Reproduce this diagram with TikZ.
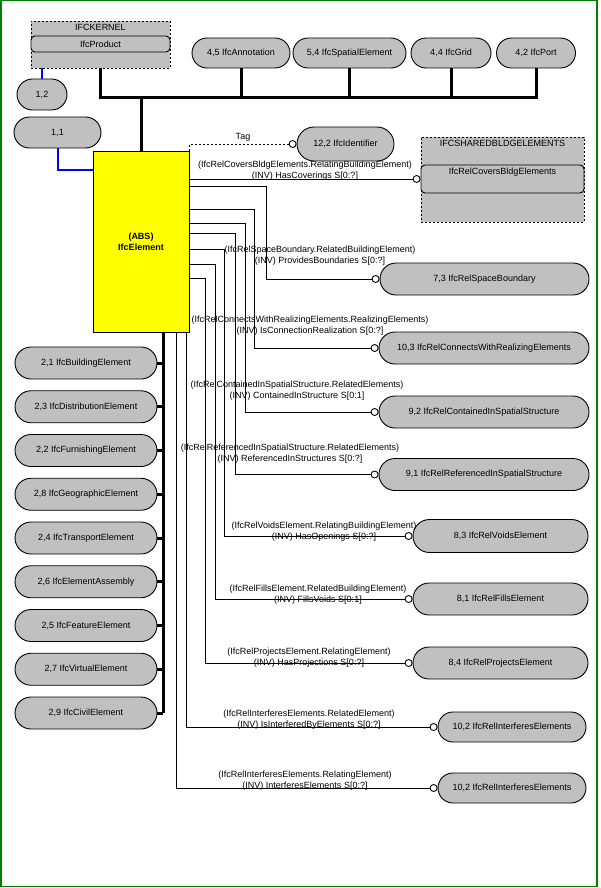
\documentclass[tikz,border=0pt]{standalone}
\usepackage{fontspec}
\setmainfont{Liberation Sans}
\usetikzlibrary{positioning, shapes.misc}

\definecolor{pillgray}{RGB}{192,192,192}
\definecolor{framegreen}{RGB}{0,128,0}
\definecolor{absyellow}{RGB}{255,255,0}
\definecolor{refblue}{RGB}{0,0,255}

\begin{document}
\begin{tikzpicture}[x = 1pt, y = -1pt, line width = 0.9pt,
    font = \fontsize{9}{11}\selectfont,
    pill/.style = {draw, fill = pillgray, rounded rectangle, inner sep = 0pt, minimum height = 32pt},
    endcirc/.style = {draw, fill = white, circle, inner sep = 0pt, minimum size = 7pt},
    pkgbox/.style = {draw, dash pattern = on 2pt off 2pt, fill = pillgray, inner sep = 0pt},
    pkginner/.style = {draw, fill = pillgray, rounded corners = 4pt, inner sep = 0pt},
    bus/.style = {line width = 3pt},
    refline/.style = {refblue, line width = 2pt},
    rolelabel/.style = {align = center, inner sep = 0pt}
]

        % Page frame.
        \useasboundingbox (0,0) rectangle (600,888);
        \draw[framegreen, line width = 1.5pt] (0.75,0.75) rectangle (597,886.5);

        % Role labels, drawn first so the pills cover them.
        \node[rolelabel] (lcov) at (305,170.5) {(IfcRelCoversBldgElements.RelatingBuildingElement)\\(INV) HasCoverings S[0:?]};
        \node[rolelabel] (l73) at (320,256) {(IfcRelSpaceBoundary.RelatedBuildingElement)\\(INV) ProvidesBoundaries S[0:?]};
        \node[rolelabel] (l103) at (310,326) {(IfcRelConnectsWithRealizingElements.RealizingElements)\\(INV) IsConnectionRealization S[0:?]};
        \node[rolelabel] (l92) at (297,390.5) {(IfcRelContainedInSpatialStructure.RelatedElements)\\(INV) ContainedInStructure S[0:1]};
        \node[rolelabel] (l91) at (290,453.5) {(IfcRelReferencedInSpatialStructure.RelatedElements)\\(INV) ReferencedInStructures S[0:?]};
        \node[rolelabel] (l83) at (324,531.5) {(IfcRelVoidsElement.RelatingBuildingElement)\\(INV) HasOpenings S[0:?]};
        \node[rolelabel] (l81) at (318,594.5) {(IfcRelFillsElement.RelatedBuildingElement)\\(INV) FillsVoids S[0:1]};
        \node[rolelabel] (l84) at (309,657.5) {(IfcRelProjectsElement.RelatingElement)\\(INV) HasProjections S[0:?]};
        \node[rolelabel] (l102a) at (309,719.5) {(IfcRelInterferesElements.RelatedElement)\\(INV) IsInterferedByElements S[0:?]};
        \node[rolelabel] (l102b) at (305,781) {(IfcRelInterferesElements.RelatingElement)\\(INV) InterferesElements S[0:?]};
        \node (tagtxt) at (243,137) {Tag};

        % The central entity.
        \node[draw, fill = absyellow, minimum width = 96pt, minimum height = 181pt,
            align = center, inner sep = 0pt, font = \fontsize{9}{11}\selectfont\bfseries]
            (el) at (141,241.5) {(ABS)\\IfcElement};

        % Schema boxes.
        \node[pkgbox, minimum width = 139pt, minimum height = 47pt,
            label = {[anchor = north, inner sep = 3pt]north:IFCKERNEL}] (kernel) at (100.5,44.5) {};
        \node[pkginner, minimum width = 139pt, minimum height = 16pt] (product) at (100.5,44) {IfcProduct};
        \node[pkgbox, minimum width = 163pt, minimum height = 85pt,
            label = {[anchor = north, inner sep = 3pt]north:IFCSHAREDBLDGELEMENTS}] (shared) at (502.5,179.5) {};
        \node[pkginner, minimum width = 163pt, minimum height = 28pt,
            label = {[anchor = north, inner sep = 3pt]north:IfcRelCoversBldgElements}] (covers) at (502.5,179) {};

        % Page references and supertypes along the top.
        \node[pill, minimum width = 50pt, minimum height = 31pt] (p12) at (42,94.5) {1,2};
        \node[pill, minimum width = 87pt, minimum height = 31pt] (p11) at (57.5,132.5) {1,1};
        \node[pill, minimum width = 98pt, minimum height = 30pt] (p45) at (241,53) {4,5 IfcAnnotation};
        \node[pill, minimum width = 113pt, minimum height = 30pt] (p54) at (349.5,53) {5,4 IfcSpatialElement};
        \node[pill, minimum width = 80pt, minimum height = 30pt] (p44) at (451,53) {4,4 IfcGrid};
        \node[pill, minimum width = 79pt, minimum height = 30pt] (p42) at (536,53) {4,2 IfcPort};
        \node[pill, minimum width = 97pt, minimum height = 34pt] (p122) at (345.5,144) {12,2 IfcIdentifier};

        % Related entities on the right.
        \node[pill, minimum width = 209pt] (p73) at (484.5,279) {7,3 IfcRelSpaceBoundary};
        \node[pill, minimum width = 210pt] (p103) at (484,348) {10,3 IfcRelConnectsWithRealizingElements};
        \node[pill, minimum width = 210pt] (p92) at (484,412) {9,2 IfcRelContainedInSpatialStructure};
        \node[pill, minimum width = 210pt] (p91) at (484,474.5) {9,1 IfcRelReferencedInSpatialStructure};
        \node[pill, minimum width = 175pt, minimum height = 33pt] (p83) at (500.5,536) {8,3 IfcRelVoidsElement};
        \node[pill, minimum width = 175pt] (p81) at (500.5,599) {8,1 IfcRelFillsElement};
        \node[pill, minimum width = 175pt] (p84) at (500.5,663) {8,4 IfcRelProjectsElement};
        \node[pill, minimum width = 148pt, minimum height = 30pt] (p102a) at (512,727) {10,2 IfcRelInterferesElements};
        \node[pill, minimum width = 148pt, minimum height = 30pt] (p102b) at (512,788) {10,2 IfcRelInterferesElements};

        % Open circles at the far ends of the relations.
        \node[endcirc, left = 0pt of p122] (ctag) {};
        \node[endcirc, left = 0pt of covers] (ccov) {};
        \foreach \c in {73, 103, 92, 91, 83, 81, 84, 102a, 102b}
            \node[endcirc, left = 0pt of p\c] (c\c) {};

        % Supertype tree above the entity.
        \coordinate (busy) at (0,98);
        \draw[bus] (product.south |- kernel.south) |- (p42.south |- busy) to (p42.south);
        \foreach \n in {p45, p54, p44}
            \draw[bus] (\n.south) to (\n.south |- busy);
        \draw[bus] (el.north) to (el.north |- busy);

        % Subtypes on the left.
        \coordinate (spine) at (163,0);
        \foreach \txt [count = \i] in {{2,1 IfcBuildingElement}, {2,3 IfcDistributionElement},
                {2,2 IfcFurnishingElement}, {2,8 IfcGeographicElement}, {2,4 IfcTransportElement},
                {2,6 IfcElementAssembly}, {2,5 IfcFeatureElement}, {2,7 IfcVirtualElement},
                {2,9 IfcCivilElement}} {
            \node[pill, minimum width = 142pt] (sub\i) at (86, 319.25 + 43.75*\i) {\txt};
            \draw[bus] (sub\i.east) to (sub\i.east -| spine);
        }
        \draw[bus] (el.south -| spine) to (sub9.east -| spine);

        % Page reference lines.
        \draw[refline] (p12.north) to (p12.north |- kernel.south);
        \draw[refline] (p11.south) |- (el.west |- 0,170);

        % Attribute and inverse relations.
        \draw[dash pattern = on 2pt off 2pt] (el.north east) |- (ctag.west);
        \draw (el.east |- ccov) to (ccov.west);
        \foreach \y/\x/\c in {186/266.7/73, 209/254/103, 223/245/92, 233/235/91,
                249/224/83, 264/215/81, 278/205.5/84}
            \draw (el.east |- 0,\y) -| (\x,0 |- c\c) to (c\c.west);
        \draw (el.south -| 186,0) |- (c102a.west);
        \draw (el.south -| 176,0) |- (c102b.west);
    \end{tikzpicture}
\end{document}
